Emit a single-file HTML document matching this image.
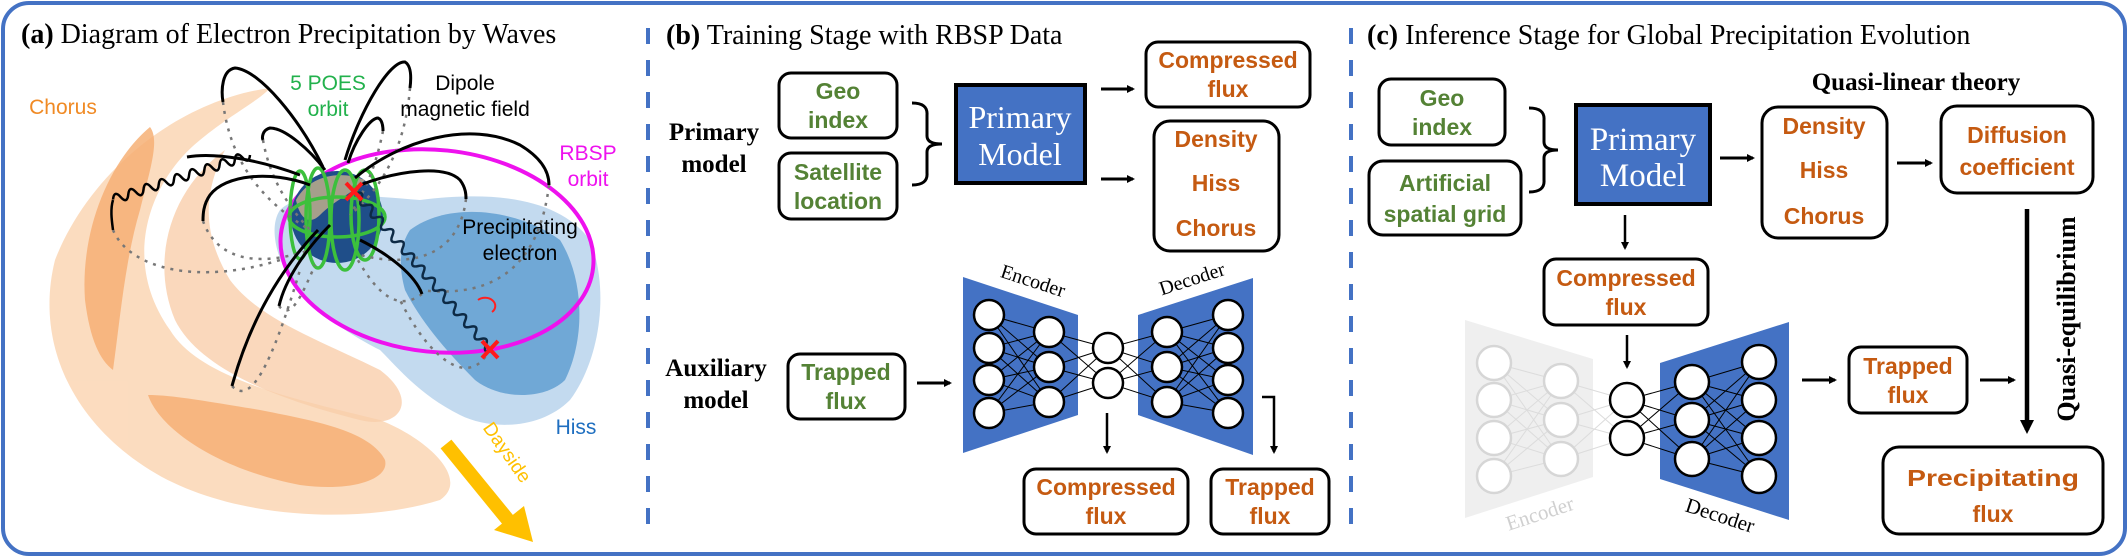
<!DOCTYPE html>
<html><head><meta charset="utf-8"><style>
html,body{margin:0;padding:0;background:#fff}
svg{display:block}
.ser{font-family:"Liberation Serif",serif}
.san{font-family:"Liberation Sans",sans-serif}
.bx{fill:#fff;stroke:#000;stroke-width:3}
.g{fill:#548235;font-family:"Liberation Sans",sans-serif;font-weight:bold;font-size:23px}
.o{fill:#c55a11;font-family:"Liberation Sans",sans-serif;font-weight:bold;font-size:23px}
.nn circle{fill:#fff;stroke:#000;stroke-width:2.5}
.nn line{stroke:#000;stroke-width:1}
.gn circle{fill:#fff;stroke:#d6d6d6;stroke-width:2.5}
.gn line{stroke:#dcdcdc;stroke-width:1}
</style></head><body>
<svg width="2128" height="558" viewBox="0 0 2128 558" xmlns="http://www.w3.org/2000/svg">
<defs>
<marker id="ah" markerWidth="8" markerHeight="8" refX="6" refY="4" orient="auto" markerUnits="userSpaceOnUse"><path d="M0,0 L8,4 L0,8 Z" fill="#000"/></marker>
<marker id="ah2" markerWidth="14" markerHeight="14" refX="10" refY="7" orient="auto" markerUnits="userSpaceOnUse"><path d="M0,0 L14,7 L0,14 Z" fill="#000"/></marker>
</defs>
<rect x="3" y="3" width="2122" height="551" rx="26" fill="#fff" stroke="#4472c4" stroke-width="4"/>
<line x1="648" y1="28" x2="648" y2="540" stroke="#4472c4" stroke-width="4" stroke-dasharray="16,16"/>
<line x1="1351" y1="28" x2="1351" y2="540" stroke="#4472c4" stroke-width="4" stroke-dasharray="16,16"/>

<!-- Panel a -->
<text x="21" y="43" class="ser" font-size="28"><tspan font-weight="bold">(a)</tspan> Diagram of Electron Precipitation by Waves</text>
<g opacity="0.85">
<path d="M270,88 C180,100 90,170 55,260 C35,340 70,420 150,470 C230,520 360,525 440,500 C470,480 430,440 380,420 C300,400 200,380 170,330 C120,260 150,180 200,140 C230,115 260,100 270,88 Z" fill="#fbd6b4"/>
<path d="M225,150 C170,190 150,260 175,320 C200,370 280,400 360,420 C400,430 420,400 380,370 C320,340 260,320 230,280 C200,230 205,190 225,150 Z" fill="#f7c69c" opacity="0.8"/>
<path d="M150,127 C110,160 80,230 85,300 C90,340 100,360 113,370 C120,320 125,260 140,210 C150,170 160,140 150,127 Z" fill="#f4a25e" opacity="0.85"/>
<path d="M148,395 C160,430 220,470 300,485 C350,492 390,480 385,460 C370,430 310,420 260,410 C200,400 170,395 148,395 Z" fill="#f4a25e" opacity="0.85"/>
</g>
<path d="M280,210 C300,190 360,195 420,200 C500,190 560,200 590,240 C610,290 600,360 570,400 C540,430 490,430 460,415 C420,395 400,370 380,350 C340,330 300,300 285,270 C275,250 270,225 280,210 Z" fill="#b9d4ec" opacity="0.85"/>
<path d="M410,230 C450,200 520,210 560,240 C585,280 585,340 565,380 C545,400 500,400 475,380 C445,350 420,320 405,290 C398,265 400,245 410,230 Z" fill="#5b9bd0" opacity="0.8"/>
<ellipse cx="437" cy="251" rx="157" ry="101" transform="rotate(6 437 251)" fill="none" stroke="#ee11ee" stroke-width="4"/>
<!-- earth -->
<circle cx="337" cy="217" r="46" fill="#1f4e89"/>
<path d="M296,200 C310,175 340,170 365,180 C350,195 335,200 320,215 C310,225 300,220 296,200Z" fill="#c8b48c" opacity="0.8"/>
<g fill="none" stroke="#3cc03c" stroke-width="3.5">
<ellipse cx="337" cy="217" rx="48" ry="20"/>
<ellipse cx="318" cy="218" rx="12" ry="50"/>
<ellipse cx="345" cy="220" rx="14" ry="50"/>
<ellipse cx="365" cy="215" rx="14" ry="45"/>
<ellipse cx="300" cy="215" rx="10" ry="44"/>
</g>
<g fill="none" stroke="#777" stroke-width="2.5" stroke-dasharray="3,6">
<path d="M223,102 C230,160 260,200 310,230"/>
<path d="M263,140 C270,180 290,210 315,235"/>
<path d="M410,88 C405,150 380,190 350,215"/>
<path d="M383,131 C375,170 365,190 350,215"/>
<path d="M549,185 C540,260 500,300 420,290"/>
<path d="M466,199 C460,250 420,270 360,255"/>
<path d="M203,221 C215,255 250,270 310,250"/>
<path d="M113,230 C130,270 200,285 280,260"/>
<path d="M232,386 C250,405 270,370 300,270"/>
<path d="M279,306 C290,320 300,300 315,265"/>
<path d="M422,294 C400,310 380,300 355,255"/>
<path d="M490,349 C470,390 430,360 400,300"/>
</g>
<g fill="none" stroke="#000" stroke-width="3">
<path d="M323,167 C300,120 260,70 235,68 C222,70 221,90 223,102"/>
<path d="M325,170 C310,150 285,128 270,128 C262,130 262,138 263,140"/>
<path d="M345,160 C360,110 390,60 405,62 C412,66 411,80 410,88"/>
<path d="M348,163 C355,140 370,118 378,118 C383,120 383,128 383,131"/>
<path d="M355,178 C400,140 470,120 520,145 C545,160 549,175 549,185"/>
<path d="M360,185 C400,170 445,165 460,180 C466,188 466,195 466,199"/>
<path d="M310,185 C270,170 225,175 210,195 C203,205 203,215 203,221"/>
<path d="M318,230 C280,270 250,320 232,386"/>
<path d="M330,225 C305,250 285,280 279,306"/>
<path d="M360,240 C390,255 415,275 422,294"/>
<path d="M300,175 C260,160 215,152 187,157"/>
</g>
<!-- chorus wave -->
<g transform="translate(250,155) rotate(162)">
<path d="M0 0 q4 -9 8 0 t8 0 t8 0 t8 0 t8 0 t8 0 t8 0 t8 0 t8 0 t8 0 t8 0 t8 0 t8 0 t8 0 t8 0 t8 0 t8 0 t8 0" fill="none" stroke="#000" stroke-width="2.5"/>
</g>
<path d="M113,200 C110,210 112,222 113,230" fill="none" stroke="#000" stroke-width="2.5"/>
<!-- precipitating electron coil -->
<g transform="translate(356,193) rotate(49.5)">
<path d="M0 0 q4 -8 8 0 t8 0 t8 0 t8 0 t8 0 t8 0 t8 0 t8 0 t8 0 t8 0 t8 0 t8 0 t8 0 t8 0 t8 0 t8 0 t8 0 t8 0 t8 0 t8 0 t8 0 t8 0 t8 0 t8 0 t8 0 t8 0" fill="none" stroke="#0d2a45" stroke-width="2.5"/>
</g>
<path d="M478,300 a10 8 0 1 1 14 12" fill="none" stroke="#ff2020" stroke-width="2"/>
<g stroke="#ff1a1a" stroke-width="4"><line x1="346" y1="183" x2="362" y2="200"/><line x1="362" y1="183" x2="346" y2="200"/><line x1="482" y1="341" x2="498" y2="358"/><line x1="498" y1="341" x2="482" y2="358"/></g>
<!-- dayside arrow -->
<line x1="446" y1="444" x2="508" y2="520" stroke="#ffc000" stroke-width="14"/>
<path d="M494,530 L524,506 L533,542 Z" fill="#ffc000"/>
<text transform="translate(502,456) rotate(55)" class="san" font-size="19" fill="#ffc000" text-anchor="middle">Dayside</text>
<g class="san" font-size="21">
<text x="63" y="114" fill="#f08a24" text-anchor="middle">Chorus</text>
<text x="328" y="90" fill="#22b14c" text-anchor="middle">5 POES</text>
<text x="328" y="116" fill="#22b14c" text-anchor="middle">orbit</text>
<text x="465" y="90" fill="#000" text-anchor="middle">Dipole</text>
<text x="465" y="116" fill="#000" text-anchor="middle">magnetic field</text>
<text x="588" y="160" fill="#ee11ee" text-anchor="middle">RBSP</text>
<text x="588" y="186" fill="#ee11ee" text-anchor="middle">orbit</text>
<text x="520" y="234" fill="#000" text-anchor="middle">Precipitating</text>
<text x="520" y="260" fill="#000" text-anchor="middle">electron</text>
<text x="576" y="434" fill="#1f6fc0" text-anchor="middle">Hiss</text>
</g>

<!-- Panel b -->
<text x="666" y="44" class="ser" font-size="28"><tspan font-weight="bold">(b)</tspan> Training Stage with RBSP Data</text>
<g class="ser" font-weight="bold" font-size="25" text-anchor="middle">
<text x="714" y="140">Primary</text><text x="714" y="172">model</text>
<text x="716" y="376">Auxiliary</text><text x="716" y="408">model</text>
</g>
<rect x="779" y="73" width="118" height="65" rx="12" class="bx"/>
<text x="838" y="99" class="g" text-anchor="middle">Geo</text>
<text x="838" y="128" class="g" text-anchor="middle">index</text>
<rect x="779" y="153" width="118" height="66" rx="12" class="bx"/>
<text x="838" y="180" class="g" text-anchor="middle">Satellite</text>
<text x="838" y="209" class="g" text-anchor="middle">location</text>
<path d="M912,103 Q928,103 927,115 L927,136 Q927,144 942,144 Q927,144 927,152 L927,173 Q928,185 912,185" fill="none" stroke="#000" stroke-width="3"/>
<rect x="956" y="85" width="129" height="98" fill="#4472c4" stroke="#000" stroke-width="4"/>
<text x="1020" y="128" class="ser" font-size="32" fill="#fff" text-anchor="middle">Primary</text>
<text x="1020" y="165" class="ser" font-size="32" fill="#fff" text-anchor="middle">Model</text>
<line x1="1101" y1="89" x2="1133" y2="89" stroke="#000" stroke-width="3" marker-end="url(#ah)"/>
<line x1="1101" y1="179" x2="1133" y2="179" stroke="#000" stroke-width="3" marker-end="url(#ah)"/>
<rect x="1146" y="42" width="164" height="65" rx="12" class="bx"/>
<text x="1228" y="68" class="o" text-anchor="middle">Compressed</text>
<text x="1228" y="97" class="o" text-anchor="middle">flux</text>
<rect x="1154" y="121" width="125" height="130" rx="16" class="bx"/>
<text x="1216" y="147" class="o" text-anchor="middle">Density</text>
<text x="1216" y="191" class="o" text-anchor="middle">Hiss</text>
<text x="1216" y="236" class="o" text-anchor="middle">Chorus</text>
<rect x="788" y="354" width="117" height="65" rx="12" class="bx"/>
<text x="846" y="380" class="g" text-anchor="middle">Trapped</text>
<text x="846" y="409" class="g" text-anchor="middle">flux</text>
<line x1="917" y1="383" x2="950" y2="383" stroke="#000" stroke-width="3" marker-end="url(#ah)"/>
<polygon points="963,277 1078,315 1078,415 963,453" fill="#4472c4"/>
<polygon points="1138,315 1253,278 1253,455 1138,415" fill="#4472c4"/>
<text transform="translate(1031,287) rotate(18)" class="ser" font-size="20" text-anchor="middle">Encoder</text>
<text transform="translate(1194,285) rotate(-18)" class="ser" font-size="20" text-anchor="middle">Decoder</text>
<g class="nn">
<g>
<line x1="989" y1="315" x2="1049" y2="332"/><line x1="989" y1="315" x2="1049" y2="367"/><line x1="989" y1="315" x2="1049" y2="402"/>
<line x1="989" y1="348" x2="1049" y2="332"/><line x1="989" y1="348" x2="1049" y2="367"/><line x1="989" y1="348" x2="1049" y2="402"/>
<line x1="989" y1="380" x2="1049" y2="332"/><line x1="989" y1="380" x2="1049" y2="367"/><line x1="989" y1="380" x2="1049" y2="402"/>
<line x1="989" y1="413" x2="1049" y2="332"/><line x1="989" y1="413" x2="1049" y2="367"/><line x1="989" y1="413" x2="1049" y2="402"/>
<line x1="1049" y1="332" x2="1108" y2="348"/><line x1="1049" y1="332" x2="1108" y2="383"/>
<line x1="1049" y1="367" x2="1108" y2="348"/><line x1="1049" y1="367" x2="1108" y2="383"/>
<line x1="1049" y1="402" x2="1108" y2="348"/><line x1="1049" y1="402" x2="1108" y2="383"/>
<line x1="1108" y1="348" x2="1167" y2="332"/><line x1="1108" y1="348" x2="1167" y2="367"/><line x1="1108" y1="348" x2="1167" y2="402"/>
<line x1="1108" y1="383" x2="1167" y2="332"/><line x1="1108" y1="383" x2="1167" y2="367"/><line x1="1108" y1="383" x2="1167" y2="402"/>
<line x1="1167" y1="332" x2="1228" y2="315"/><line x1="1167" y1="332" x2="1228" y2="348"/><line x1="1167" y1="332" x2="1228" y2="380"/><line x1="1167" y1="332" x2="1228" y2="413"/>
<line x1="1167" y1="367" x2="1228" y2="315"/><line x1="1167" y1="367" x2="1228" y2="348"/><line x1="1167" y1="367" x2="1228" y2="380"/><line x1="1167" y1="367" x2="1228" y2="413"/>
<line x1="1167" y1="402" x2="1228" y2="315"/><line x1="1167" y1="402" x2="1228" y2="348"/><line x1="1167" y1="402" x2="1228" y2="380"/><line x1="1167" y1="402" x2="1228" y2="413"/>
</g>
<circle cx="989" cy="315" r="15"/><circle cx="989" cy="348" r="15"/><circle cx="989" cy="380" r="15"/><circle cx="989" cy="413" r="15"/>
<circle cx="1049" cy="332" r="15"/><circle cx="1049" cy="367" r="15"/><circle cx="1049" cy="402" r="15"/>
<circle cx="1108" cy="348" r="15"/><circle cx="1108" cy="383" r="15"/>
<circle cx="1167" cy="332" r="15"/><circle cx="1167" cy="367" r="15"/><circle cx="1167" cy="402" r="15"/>
<circle cx="1228" cy="315" r="15"/><circle cx="1228" cy="348" r="15"/><circle cx="1228" cy="380" r="15"/><circle cx="1228" cy="413" r="15"/>
</g>
<line x1="1107" y1="413" x2="1107" y2="452" stroke="#000" stroke-width="2.5" marker-end="url(#ah)"/>
<path d="M1262,397 L1274,397 L1274,452" fill="none" stroke="#000" stroke-width="2.5" marker-end="url(#ah)"/>
<rect x="1024" y="469" width="164" height="65" rx="12" class="bx"/>
<text x="1106" y="495" class="o" text-anchor="middle">Compressed</text>
<text x="1106" y="524" class="o" text-anchor="middle">flux</text>
<rect x="1211" y="469" width="118" height="65" rx="12" class="bx"/>
<text x="1270" y="495" class="o" text-anchor="middle">Trapped</text>
<text x="1270" y="524" class="o" text-anchor="middle">flux</text>

<!-- Panel c -->
<text x="1367" y="44" class="ser" font-size="28"><tspan font-weight="bold">(c)</tspan> Inference Stage for Global Precipitation Evolution</text>
<rect x="1379" y="79" width="126" height="66" rx="12" class="bx"/>
<text x="1442" y="106" class="g" text-anchor="middle">Geo</text>
<text x="1442" y="135" class="g" text-anchor="middle">index</text>
<rect x="1369" y="161" width="152" height="74" rx="14" class="bx"/>
<text x="1445" y="191" class="g" text-anchor="middle">Artificial</text>
<text x="1445" y="222" class="g" text-anchor="middle">spatial grid</text>
<path d="M1529,108 Q1545,108 1544,120 L1544,142 Q1544,150 1558,150 Q1544,150 1544,158 L1544,180 Q1545,192 1529,192" fill="none" stroke="#000" stroke-width="3"/>
<rect x="1576" y="105" width="134" height="99" fill="#4472c4" stroke="#000" stroke-width="4"/>
<text x="1643" y="150" class="ser" font-size="33" fill="#fff" text-anchor="middle">Primary</text>
<text x="1643" y="186" class="ser" font-size="33" fill="#fff" text-anchor="middle">Model</text>
<text x="1916" y="90" class="ser" font-weight="bold" font-size="25" text-anchor="middle">Quasi-linear theory</text>
<line x1="1720" y1="158" x2="1753" y2="158" stroke="#000" stroke-width="3" marker-end="url(#ah)"/>
<rect x="1762" y="107" width="125" height="131" rx="16" class="bx"/>
<text x="1824" y="134" class="o" text-anchor="middle">Density</text>
<text x="1824" y="178" class="o" text-anchor="middle">Hiss</text>
<text x="1824" y="224" class="o" text-anchor="middle">Chorus</text>
<line x1="1897" y1="163" x2="1931" y2="163" stroke="#000" stroke-width="3" marker-end="url(#ah)"/>
<rect x="1941" y="106" width="152" height="87" rx="16" class="bx"/>
<text x="2017" y="143" class="o" font-size="25" text-anchor="middle">Diffusion</text>
<text x="2017" y="175" class="o" font-size="25" text-anchor="middle">coefficient</text>
<line x1="1625" y1="215" x2="1625" y2="248" stroke="#000" stroke-width="2.5" marker-end="url(#ah)"/>
<rect x="1544" y="259" width="164" height="66" rx="12" class="bx"/>
<text x="1626" y="286" class="o" text-anchor="middle">Compressed</text>
<text x="1626" y="315" class="o" text-anchor="middle">flux</text>
<line x1="1627" y1="335" x2="1627" y2="367" stroke="#000" stroke-width="2.5" marker-end="url(#ah)"/>
<polygon points="1465,320 1593,359 1593,477 1465,518" fill="#efefef"/>
<polygon points="1660,363 1789,322 1789,520 1660,479" fill="#4472c4"/>
<text transform="translate(1542,520) rotate(-18)" class="ser" font-size="21" fill="#d0d0d0" text-anchor="middle">Encoder</text>
<text transform="translate(1718,522) rotate(18)" class="ser" font-size="21" text-anchor="middle">Decoder</text>
<g class="gn">
<line x1="1494" y1="363" x2="1561" y2="381"/><line x1="1494" y1="363" x2="1561" y2="420"/><line x1="1494" y1="363" x2="1561" y2="459"/>
<line x1="1494" y1="400" x2="1561" y2="381"/><line x1="1494" y1="400" x2="1561" y2="420"/><line x1="1494" y1="400" x2="1561" y2="459"/>
<line x1="1494" y1="438" x2="1561" y2="381"/><line x1="1494" y1="438" x2="1561" y2="420"/><line x1="1494" y1="438" x2="1561" y2="459"/>
<line x1="1494" y1="476" x2="1561" y2="381"/><line x1="1494" y1="476" x2="1561" y2="420"/><line x1="1494" y1="476" x2="1561" y2="459"/>
<line x1="1561" y1="381" x2="1627" y2="400"/><line x1="1561" y1="381" x2="1627" y2="438"/>
<line x1="1561" y1="420" x2="1627" y2="400"/><line x1="1561" y1="420" x2="1627" y2="438"/>
<line x1="1561" y1="459" x2="1627" y2="400"/><line x1="1561" y1="459" x2="1627" y2="438"/>
<circle cx="1494" cy="363" r="17"/><circle cx="1494" cy="400" r="17"/><circle cx="1494" cy="438" r="17"/><circle cx="1494" cy="476" r="17"/>
<circle cx="1561" cy="381" r="17"/><circle cx="1561" cy="420" r="17"/><circle cx="1561" cy="459" r="17"/>
</g>
<g class="nn">
<line x1="1627" y1="400" x2="1692" y2="382"/><line x1="1627" y1="400" x2="1692" y2="420"/><line x1="1627" y1="400" x2="1692" y2="459"/>
<line x1="1627" y1="438" x2="1692" y2="382"/><line x1="1627" y1="438" x2="1692" y2="420"/><line x1="1627" y1="438" x2="1692" y2="459"/>
<line x1="1692" y1="382" x2="1759" y2="362"/><line x1="1692" y1="382" x2="1759" y2="400"/><line x1="1692" y1="382" x2="1759" y2="438"/><line x1="1692" y1="382" x2="1759" y2="476"/>
<line x1="1692" y1="420" x2="1759" y2="362"/><line x1="1692" y1="420" x2="1759" y2="400"/><line x1="1692" y1="420" x2="1759" y2="438"/><line x1="1692" y1="420" x2="1759" y2="476"/>
<line x1="1692" y1="459" x2="1759" y2="362"/><line x1="1692" y1="459" x2="1759" y2="400"/><line x1="1692" y1="459" x2="1759" y2="438"/><line x1="1692" y1="459" x2="1759" y2="476"/>
<circle cx="1627" cy="400" r="17"/><circle cx="1627" cy="438" r="17"/>
<circle cx="1692" cy="382" r="17"/><circle cx="1692" cy="420" r="17"/><circle cx="1692" cy="459" r="17"/>
<circle cx="1759" cy="362" r="17"/><circle cx="1759" cy="400" r="17"/><circle cx="1759" cy="438" r="17"/><circle cx="1759" cy="476" r="17"/>
</g>
<line x1="1802" y1="380" x2="1835" y2="380" stroke="#000" stroke-width="3" marker-end="url(#ah)"/>
<rect x="1849" y="347" width="118" height="66" rx="12" class="bx"/>
<text x="1908" y="374" class="o" text-anchor="middle">Trapped</text>
<text x="1908" y="403" class="o" text-anchor="middle">flux</text>
<line x1="1980" y1="380" x2="2014" y2="380" stroke="#000" stroke-width="3" marker-end="url(#ah)"/>
<line x1="2027" y1="209" x2="2027" y2="430" stroke="#000" stroke-width="4.5" marker-end="url(#ah2)"/>
<text transform="translate(2075,319) rotate(-90)" class="ser" font-weight="bold" font-size="26" text-anchor="middle">Quasi-equilibrium</text>
<rect x="1883" y="447" width="220" height="87" rx="16" class="bx"/>
<text x="1993" y="486" class="o" font-size="32" text-anchor="middle" textLength="172" lengthAdjust="spacingAndGlyphs">Precipitating</text>
<text x="1993" y="522" class="o" font-size="32" text-anchor="middle">flux</text>
</svg>
</body></html>
